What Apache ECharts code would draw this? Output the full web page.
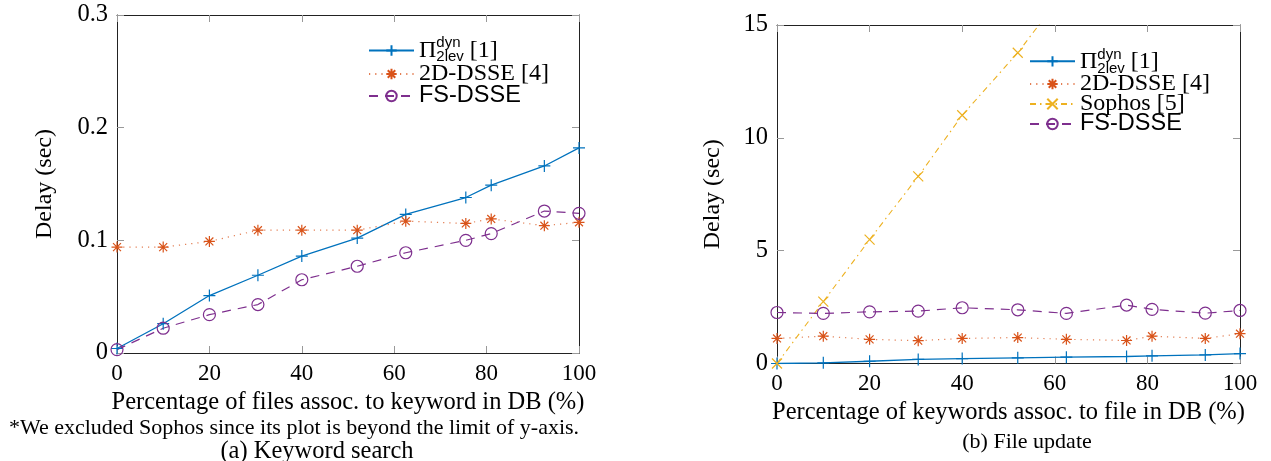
<!DOCTYPE html>
<html><head><meta charset="utf-8">
<script src="https://cdn.jsdelivr.net/npm/echarts@6/dist/echarts.min.js"></script>
<style>html,body{margin:0;padding:0;background:#fff}#c{width:1271px;height:461px}</style>
</head><body><div id="c"></div>
<script>
// ---- data ----
const xPct = [0, 10, 20, 30.5, 40, 52, 62.5, 75.5, 81, 92.5, 100];
const xTicks = [0, 20, 40, 60, 80, 100];
const searchYTicks = [0, 0.1, 0.2, 0.3];
const updateYTicks = [0, 5, 10, 15];

const searchPi = [0.004, 0.026, 0.051, 0.069, 0.086, 0.102, 0.123, 0.138, 0.149, 0.166, 0.182];
const search2D = [0.094, 0.094, 0.099, 0.109, 0.109, 0.109, 0.117, 0.115, 0.119, 0.113, 0.116];
const searchFS = [0.003, 0.022, 0.034, 0.043, 0.065, 0.077, 0.089, 0.100, 0.106, 0.126, 0.124];

const updPi = [0.0, 0.03, 0.10, 0.18, 0.22, 0.25, 0.28, 0.31, 0.34, 0.38, 0.44];
const upd2D = [1.11, 1.21, 1.07, 1.01, 1.11, 1.15, 1.07, 1.02, 1.21, 1.11, 1.32];
const updSophos = [0, 2.74, 5.49, 8.29, 11.0, 13.77, 16.6];
const updFS = [2.26, 2.22, 2.29, 2.32, 2.47, 2.38, 2.22, 2.59, 2.40, 2.23, 2.35];

const legendLabels = {
  'Pi': '{serif|Π}{sup|dyn}{sub|2lev}{serif| [1]}',
  '2D-DSSE [4]': '{serif|2D-DSSE [4]}',
  'Sophos [5]': '{serif|Sophos [5]}',
  'FS-DSSE': '{sans|FS-DSSE}'
};

// ---- styling helpers ----
const SERIF = 'Liberation Serif';
const SANS = 'Liberation Sans';
const C_BLUE = '#0072BD', C_ORANGE = '#D95319', C_YELLOW = '#EDB120', C_PURPLE = '#7E2F8E';
const PLUS = 'path://M0,-5L0,5M-5,0L5,0';
const CROSS = 'path://M-4,-4L4,4M-4,4L4,-4';
const ASTER = 'path://M0,-5L0,5M-5,0L5,0M-3.6,-3.6L3.6,3.6M-3.6,3.6L3.6,-3.6';

function zip(xs, ys) { return ys.map((y, i) => [xs[i], y]); }

function rangeOf(t) { return { min: t[0], max: t[t.length - 1], interval: t[1] - t[0] }; }

function xAx(grid, pos, name) {
  const r = rangeOf(xTicks);
  return {
    type: 'value', gridIndex: grid, position: pos, min: r.min, max: r.max, interval: r.interval,
    name: name || '', nameLocation: 'middle', nameGap: 27,
    nameTextStyle: { fontFamily: SERIF, fontSize: 24.5, color: '#000' },
    axisLine: { show: true, onZero: false, lineStyle: { color: '#222', width: 1 } },
    axisTick: { show: true, inside: true, length: 7, lineStyle: { color: '#999', width: 1 } },
    axisLabel: { show: pos === 'bottom', margin: 9, fontFamily: SERIF, fontSize: 23, color: '#000' },
    splitLine: { show: false }
  };
}
function yAx(grid, pos, ticks, name, gap) {
  const r = rangeOf(ticks);
  return {
    type: 'value', gridIndex: grid, position: pos, min: r.min, max: r.max, interval: r.interval,
    name: name || '', nameLocation: 'middle', nameGap: gap || 0,
    nameTextStyle: { fontFamily: SERIF, fontSize: 24, color: '#000' },
    axisLine: { show: true, onZero: false, lineStyle: { color: '#222', width: 1 } },
    axisTick: { show: true, inside: true, length: 7, lineStyle: { color: '#999', width: 1 } },
    axisLabel: { show: pos === 'left', margin: 9, fontFamily: SERIF, fontSize: 24.5, color: '#000',
      formatter: v => String(+v.toFixed(2)) },
    splitLine: { show: false }
  };
}

function lineSeries(name, xi, yi, data, kind) {
  const base = {
    name, type: 'line', xAxisIndex: xi, yAxisIndex: yi, data, clip: true,
    showSymbol: true, showAllSymbol: true, symbolKeepAspect: true, z: 3
  };
  if (kind === 'pi') Object.assign(base, {
    symbol: PLUS, symbolSize: 12,
    itemStyle: { color: C_BLUE, borderColor: C_BLUE, borderWidth: 1.2 },
    lineStyle: { color: C_BLUE, width: 1.3, type: 'solid' }
  });
  if (kind === '2d') Object.assign(base, {
    symbol: ASTER, symbolSize: 11,
    itemStyle: { color: C_ORANGE, borderColor: C_ORANGE, borderWidth: 1.2 },
    lineStyle: { color: C_ORANGE, width: 1.2, type: [1.2, 5], opacity: 0.75 }
  });
  if (kind === 'soph') Object.assign(base, {
    symbol: CROSS, symbolSize: 10,
    itemStyle: { color: C_YELLOW, borderColor: C_YELLOW, borderWidth: 1.2 },
    lineStyle: { color: C_YELLOW, width: 1.1, type: [6, 4, 1.5, 4] }
  });
  if (kind === 'fs') Object.assign(base, {
    symbol: 'circle', symbolSize: 12,
    itemStyle: { color: 'rgba(255,255,255,0)', borderColor: C_PURPLE, borderWidth: 1.2 },
    lineStyle: { color: C_PURPLE, width: 1.2, type: [9, 7] }
  });
  return base;
}

function richLegend(lh) {
  return {
    serif: { fontFamily: SERIF, fontSize: 24, color: '#000', lineHeight: lh },
    sans: { fontFamily: SANS, fontSize: 23.5, color: '#000', lineHeight: lh },
    sup: { fontFamily: SANS, fontSize: 15, color: '#000', width: 0, lineHeight: lh, verticalAlign: 'top', padding: [-4, 0, 0, 0] },
    sub: { fontFamily: SANS, fontSize: 15, color: '#000', lineHeight: lh - 10, verticalAlign: 'top', padding: [10, 0, 0, 0] }
  };
}

function legend(left, top, names, gap, lh) {
  return {
    orient: 'vertical', left, top, padding: 0, itemGap: gap, itemWidth: 45, itemHeight: 13,
    data: names, selectedMode: false,
    formatter: n => legendLabels[n],
    textStyle: { fontFamily: SERIF, fontSize: 24, color: '#000', lineHeight: lh, rich: richLegend(lh) }
  };
}

const chart = echarts.init(document.getElementById('c'), null, { renderer: 'canvas' });
chart.setOption({
  animation: false,
  backgroundColor: '#fff',
  grid: [
    { left: 117, right: 692, top: 15, bottom: 108 },
    { left: 777, right: 31, top: 25, bottom: 97.5 }
  ],
  xAxis: [
    xAx(0, 'bottom', 'Percentage of files assoc. to keyword in DB (%)'),
    xAx(0, 'top'),
    xAx(1, 'bottom', 'Percentage of keywords assoc. to file in DB (%)'),
    xAx(1, 'top')
  ],
  yAxis: [
    yAx(0, 'left', searchYTicks, 'Delay (sec)', 60),
    yAx(0, 'right', searchYTicks),
    yAx(1, 'left', updateYTicks, 'Delay (sec)', 52),
    yAx(1, 'right', updateYTicks)
  ],
  legend: [
    legend(368, 35, ['Pi', '2D-DSSE [4]', 'FS-DSSE'], -2, 23),
    legend(1029, 47, ['Pi', '2D-DSSE [4]', 'Sophos [5]', 'FS-DSSE'], -4, 20.7)
  ],
  series: [
    lineSeries('Pi', 0, 0, zip(xPct, searchPi), 'pi'),
    lineSeries('2D-DSSE [4]', 0, 0, zip(xPct, search2D), '2d'),
    lineSeries('FS-DSSE', 0, 0, zip(xPct, searchFS), 'fs'),
    lineSeries('Pi', 2, 2, zip(xPct, updPi), 'pi'),
    lineSeries('2D-DSSE [4]', 2, 2, zip(xPct, upd2D), '2d'),
    lineSeries('Sophos [5]', 2, 2, zip(xPct, updSophos), 'soph'),
    lineSeries('FS-DSSE', 2, 2, zip(xPct, updFS), 'fs')
  ],
  graphic: [
    { type: 'text', x: 294, y: 428, style: { text: '*We excluded Sophos since its plot is beyond the limit of y-axis.', font: '22px "Liberation Serif"', fill: '#000', textAlign: 'center', textVerticalAlign: 'middle' } },
    { type: 'text', x: 317, y: 452, style: { text: '(a) Keyword search', font: '24.5px "Liberation Serif"', fill: '#000', textAlign: 'center', textVerticalAlign: 'middle' } },
    { type: 'text', x: 1027, y: 442, style: { text: '(b) File update', font: '22px "Liberation Serif"', fill: '#000', textAlign: 'center', textVerticalAlign: 'middle' } }
  ]
});
</script>
</body></html>
